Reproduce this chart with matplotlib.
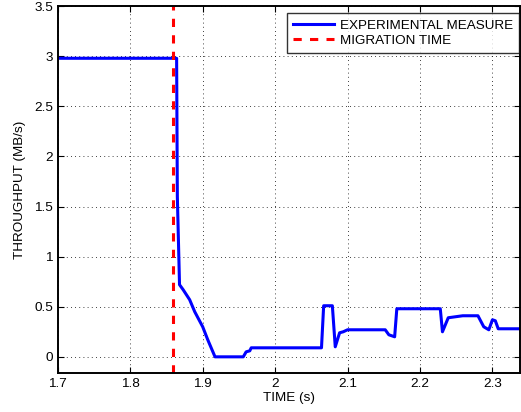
import matplotlib
matplotlib.use("Agg")
import matplotlib.pyplot as plt

# throughput trace (time in s, MB/s)
time_s = [1.700, 1.864, 1.865, 1.868, 1.873, 1.882, 1.889, 1.900, 1.907, 1.917,
          1.956, 1.960, 1.965, 1.967, 2.064, 2.067, 2.079, 2.083, 2.089, 2.094,
          2.100, 2.152, 2.157, 2.165, 2.168, 2.228, 2.231, 2.239, 2.259, 2.280,
          2.288, 2.295, 2.300, 2.304, 2.308, 2.340]
throughput = [2.98, 2.98, 1.60, 0.72, 0.67, 0.57, 0.45, 0.30, 0.17, 0.00,
              0.00, 0.05, 0.06, 0.09, 0.09, 0.51, 0.51, 0.10, 0.24, 0.25,
              0.27, 0.27, 0.22, 0.20, 0.48, 0.48, 0.25, 0.39, 0.41, 0.41,
              0.30, 0.27, 0.37, 0.36, 0.28, 0.28]
migration_time = 1.859

xticks = [1.7, 1.8, 1.9, 2.0, 2.1, 2.2, 2.3]
xtick_labels = ["1.7", "1.8", "1.9", "2", "2.1", "2.2", "2.3"]
yticks = [0, 0.5, 1, 1.5, 2, 2.5, 3, 3.5]
ytick_labels = ["0", "0.5", "1", "1.5", "2", "2.5", "3", "3.5"]

plt.rcParams['font.family'] = ['Liberation Sans', 'DejaVu Sans']
plt.rcParams['font.size'] = 9

fig = plt.figure(figsize=(5.21, 4.12), dpi=100)
ax = fig.add_axes([0.111, 0.095, 0.887, 0.890])

ax.plot(time_s, throughput, color='#0000ff', linewidth=2.2, label='EXPERIMENTAL MEASURE')
ax.axvline(migration_time, color='#ff0000', linestyle=(0, (2.7, 2.7)), linewidth=2.2,
           label='MIGRATION TIME')

ax.set_xlim(1.7, 2.338)
ax.set_ylim(-0.16, 3.5)
ax.set_xticks(xticks)
ax.set_xticklabels(xtick_labels)
ax.set_yticks(yticks)
ax.set_yticklabels(ytick_labels)
ax.grid(True, color='black', linestyle=(0, (1, 4)), linewidth=0.6)
ax.tick_params(direction='in', top=True, right=True, length=4, width=0.8, labelsize=9.7)
for s in ax.spines.values():
    s.set_linewidth(1.4)

ax.set_xlabel('TIME (s)', fontsize=9.7, labelpad=2)
ax.set_ylabel('THROUGHPUT (MB/s)', fontsize=9.7, labelpad=6)

leg = ax.legend(loc='upper right', bbox_to_anchor=(0.998, 0.981), fontsize=9.7,
                frameon=True, fancybox=False, borderpad=0.45, borderaxespad=0.0,
                handlelength=3.0, handletextpad=0.45, labelspacing=0.2)
leg.get_frame().set_edgecolor('black')
leg.get_frame().set_linewidth(1.0)

fig.savefig('out.png', dpi=100)
